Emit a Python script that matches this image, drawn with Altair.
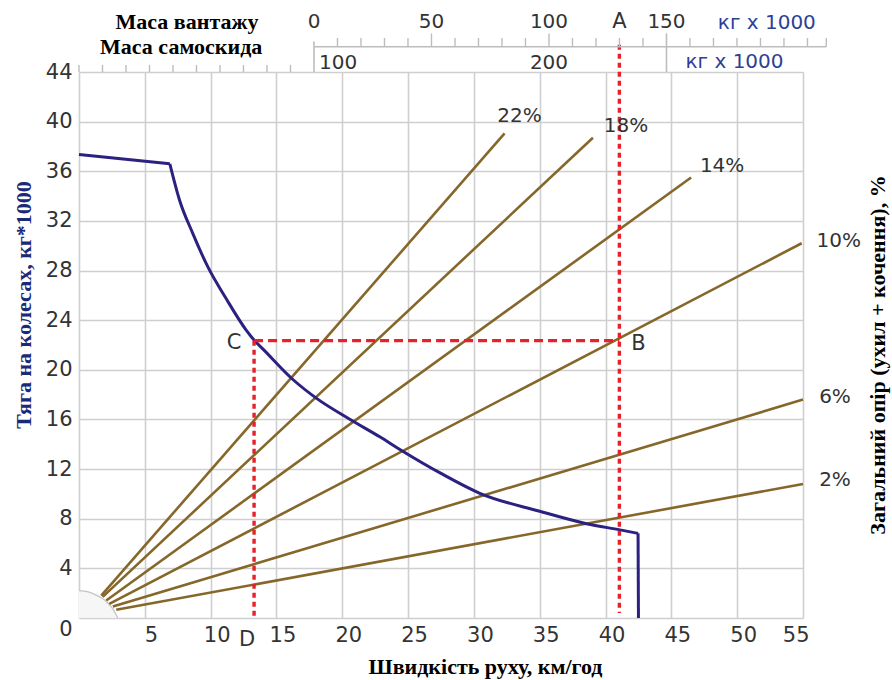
import altair as alt
import pandas as pd

# ---------------- data ----------------
speed_ticks = list(range(0, 56, 5))
force_ticks = list(range(0, 45, 4))

# tractive force curve: flat start, hyperbolic part, vertical drop
curve_speed = [0, 6.9, 7.64, 8.65, 9.79, 11.2, 12.7, 13.3, 14.0, 16.27, 18.05, 20.6,
               22.85, 24.5, 27.5, 30.45, 35.0, 38.55, 41.1, 42.47, 42.5]
curve_force = [37.35, 36.6, 33.67, 30.98, 28.29, 25.7, 23.2, 22.4, 21.65, 19.2, 17.7, 16.0,
               14.6, 13.5, 11.65, 10.05, 8.6, 7.6, 7.1, 6.82, 0]

grade_labels = ["22%", "18%", "14%", "10%", "6%", "2%"]
grade_start_speed = [1.69, 1.8, 2.07, 2.3, 2.57, 2.83]
grade_start_force = [1.81, 1.7, 1.41, 1.14, 0.93, 0.66]
grade_end_speed = [32.33, 39.04, 46.5, 54.9, 55.0, 55.0]
grade_end_force = [39.05, 38.7, 35.5, 30.2, 17.6, 10.8]

hub_speed = [0, 0.7, 1.3, 2.0, 2.57, 2.95]
hub_force = [2.2, 2.1, 1.85, 1.4, 0.74, 0]

speed_A = 41.05     # vertical line A-B
force_B = 22.35     # horizontal line B-C
speed_C = 13.3      # vertical line C-D
top_A = 46.2        # line A starts at the load scale
bottom_A = 0.4

load_minor = [10, 20, 30, 40, 60, 70, 80, 90, 110, 120, 130, 140, 160, 170, 180,
              190, 200, 210, 218]
load_major = [50, 100]
load_dividers = [0, 150]
load_axis_extent = [0, 218]
load_labels = [0, 50, 100, 150]

truck_ticks = [0, 10, 20, 30, 40, 50, 60, 70, 80, 90]
truck_labels = [100, 200]

# ---------------- styles ----------------
BROWN = "#86672a"
BLUE = "#2a2180"
RED = "#e8202a"
GRID = "#cfcfcf"
TXT = "#333333"
UNIT = "#2e3f96"
SANS = "DejaVu Sans"
SERIF = "Liberation Serif"
H = 546

X = alt.X("x:Q", scale=alt.Scale(domain=[0, 55], nice=False, zero=False),
          axis=alt.Axis(values=speed_ticks, grid=True, gridColor=GRID, gridWidth=1.6,
                        domain=False, ticks=False, labelFont=SANS, labelFontSize=21,
                        labelColor=TXT, labelPadding=6, labelOffset=6,
                        labelExpr="datum.value == 0 ? '' : datum.label", title=None))
Y = alt.Y("y:Q", scale=alt.Scale(domain=[0, 44], nice=False, zero=False),
          axis=alt.Axis(values=force_ticks, grid=True, gridColor=GRID, gridWidth=1.6,
                        domain=False, ticks=False, labelFont=SANS, labelFontSize=21,
                        labelColor=TXT, labelPadding=7,
                        labelBaseline={"expr": "datum.value == 0 ? 'top' : 'middle'"},
                        title=None))

# hub (quarter circle near origin)
hub_df = pd.DataFrame({"x": hub_speed, "y": hub_force})
hub_area = alt.Chart(hub_df).mark_area(color="#f6f6f6", interpolate="monotone").encode(x=X, y=Y)
hub_line = alt.Chart(hub_df).mark_line(color="#c4c4c4", strokeWidth=1.3,
                                       interpolate="monotone").encode(x=X, y=Y)

# grade lines
rows = []
for g, xs, ys, xe, ye in zip(grade_labels, grade_start_speed, grade_start_force,
                             grade_end_speed, grade_end_force):
    rows.append({"grade": g, "x": xs, "y": ys})
    rows.append({"grade": g, "x": xe, "y": ye})
grade_df = pd.DataFrame(rows)
grade_lines = alt.Chart(grade_df).mark_line(color=BROWN, strokeWidth=2.6).encode(
    x=X, y=Y, detail="grade:N")

# tractive force curve (sharp corners kept, hyperbolic part smoothed)
curve_df = pd.DataFrame({"x": curve_speed, "y": curve_force, "i": range(len(curve_speed))})
n = len(curve_speed)
curve_flat = alt.Chart(curve_df.iloc[:2]).mark_line(color=BLUE, strokeWidth=3).encode(
    x=X, y=Y, order="i:Q")
curve_mid = alt.Chart(curve_df.iloc[1:n - 1]).mark_line(
    color=BLUE, strokeWidth=3, interpolate="monotone").encode(x=X, y=Y, order="i:Q")
curve_drop = alt.Chart(curve_df.iloc[n - 2:]).mark_line(
    color=BLUE, strokeWidth=3, strokeJoin="miter").encode(x=X, y=Y, order="i:Q")

# red construction lines
def seg(x0, y0, x1, y1, dash):
    df = pd.DataFrame({"x": [x0, x1], "y": [y0, y1], "i": [0, 1]})
    return alt.Chart(df).mark_line(color=RED, strokeWidth=3.4, strokeDash=dash).encode(
        x=X, y=Y, order="i:Q")

red_a = seg(speed_A, top_A, speed_A, bottom_A, [5, 4])
red_bc = seg(speed_C, force_B, speed_A, force_B, [9, 5])
red_d = seg(speed_C, force_B, speed_C, 0, [5, 4])

# grade labels
grade_dx = [15, 33, 31, 37, 32, 32]
grade_dy = [-17, -12, -11, -2, -3, -4]
grade_texts = []
for g, xe, ye, dx, dy in zip(grade_labels, grade_end_speed, grade_end_force, grade_dx, grade_dy):
    df = pd.DataFrame({"x": [xe], "y": [ye], "t": [g]})
    grade_texts.append(alt.Chart(df).mark_text(font=SANS, fontSize=20, color=TXT,
                                               dx=dx, dy=dy).encode(x=X, y=Y, text="t:N"))

# point labels
def ptext(label, x, y, dx, dy):
    df = pd.DataFrame({"x": [x], "y": [y], "t": [label]})
    return alt.Chart(df).mark_text(font=SANS, fontSize=21, color=TXT, dx=dx, dy=dy).encode(
        x=X, y=Y, text="t:N")

txt_B = ptext("B", speed_A, force_B, 19, 3)
txt_C = ptext("C", speed_C, force_B, -20, 2)
txt_D = ptext("D", speed_C, 0, -7, 22)
dfA = pd.DataFrame({"x": [speed_A], "t": ["A"]})
txt_A = alt.Chart(dfA).mark_text(font=SANS, fontSize=21, color=TXT).encode(
    x=X, y=alt.value(-50), text="t:N")

# titles
def title(text, x, y, size=22, color="black", angle=0):
    df = pd.DataFrame({"t": [text]})
    kw = dict(font=SERIF, fontWeight="bold", fontSize=size, color=color)
    if angle:
        kw["angle"] = angle
    return alt.Chart(df).mark_text(**kw).encode(x=alt.value(x), y=alt.value(y), text="t:N")

t_x = title("Швидкість руху, км/год", 406.5, H + 49)
t_y = title("Тяга на колесах, кг*1000", -55.5, 233, color="#1b2a78", angle=270)
t_r = title("Загальний опір (ухил + кочення), %", 799, 283, angle=270)
t_load = title("Маса вантажу", 108, -50.3)
t_truck = title("Маса самоскида", 102.2, -25.3)

def unit(x, y):
    df = pd.DataFrame({"t": ["кг x 1000"]})
    return alt.Chart(df).mark_text(font=SANS, fontSize=20, color=UNIT, align="left").encode(
        x=alt.value(x), y=alt.value(y), text="t:N")

u_load = unit(638.8, -48.7)
u_truck = unit(606.5, -10.3)

speed_group = alt.layer(hub_area, hub_line, grade_lines, curve_flat, curve_mid, curve_drop,
                        red_bc, red_d, red_a,
                        *grade_texts, txt_A, txt_B, txt_C, txt_D,
                        t_x, t_y, t_r, t_load, t_truck, u_load, u_truck)

# ---------------- load mass scale (top) ----------------
def LX(f):
    return alt.X(f, scale=alt.Scale(domain=[-100, 208.1], nice=False, zero=False), axis=None)

load_line = alt.Chart(pd.DataFrame({"a": [load_axis_extent[0]], "b": [load_axis_extent[1]]})).mark_rule(
    color="#bdbdbd", strokeWidth=1.6).encode(x=LX("a:Q"), x2="b:Q", y=alt.value(-25.3))
load_minor_r = alt.Chart(pd.DataFrame({"v": load_minor})).mark_rule(
    color="#bdbdbd", strokeWidth=1.4).encode(x=LX("v:Q"), y=alt.value(-34), y2=alt.value(-25.3))
load_major_r = alt.Chart(pd.DataFrame({"v": load_major})).mark_rule(
    color="#bdbdbd", strokeWidth=1.4).encode(x=LX("v:Q"), y=alt.value(-38.5), y2=alt.value(-25.3))
load_div0 = alt.Chart(pd.DataFrame({"v": load_dividers[:1]})).mark_rule(
    color="#bdbdbd", strokeWidth=1.6).encode(x=LX("v:Q"), y=alt.value(-30.5), y2=alt.value(0))
load_div1 = alt.Chart(pd.DataFrame({"v": load_dividers[1:]})).mark_rule(
    color="#bdbdbd", strokeWidth=1.6).encode(x=LX("v:Q"), y=alt.value(-38.7), y2=alt.value(0))
load_text = alt.Chart(pd.DataFrame({"v": load_labels})).mark_text(
    font=SANS, fontSize=20, color=TXT).encode(x=LX("v:Q"), y=alt.value(-50.3), text="v:Q")
load_group = alt.layer(load_line, load_minor_r, load_major_r, load_div0, load_div1, load_text)

# ---------------- truck mass scale (top) ----------------
def TX(f):
    return alt.X(f, scale=alt.Scale(domain=[0, 308.1], nice=False, zero=False), axis=None)

truck_r = alt.Chart(pd.DataFrame({"v": truck_ticks})).mark_rule(
    color="#bdbdbd", strokeWidth=1.4).encode(x=TX("v:Q"), y=alt.value(-7), y2=alt.value(0))
truck_t1 = alt.Chart(pd.DataFrame({"v": truck_labels[:1]})).mark_text(
    font=SANS, fontSize=20, color=TXT, align="left", dx=5).encode(
    x=TX("v:Q"), y=alt.value(-9.5), text="v:Q")
truck_t2 = alt.Chart(pd.DataFrame({"v": truck_labels[1:]})).mark_text(
    font=SANS, fontSize=20, color=TXT).encode(x=TX("v:Q"), y=alt.value(-9.5), text="v:Q")
truck_group = alt.layer(truck_r, truck_t1, truck_t2)

chart = alt.layer(speed_group, load_group, truck_group).resolve_scale(
    x="independent"
).properties(
    width=724, height=H,
    autosize=alt.AutoSizeParams(type="none"),
    padding={"left": 79, "top": 72, "right": 89, "bottom": 62},
).configure_view(stroke=None).configure(background="white")

chart.save("out.html", embed_options={"renderer": "svg", "actions": False})
